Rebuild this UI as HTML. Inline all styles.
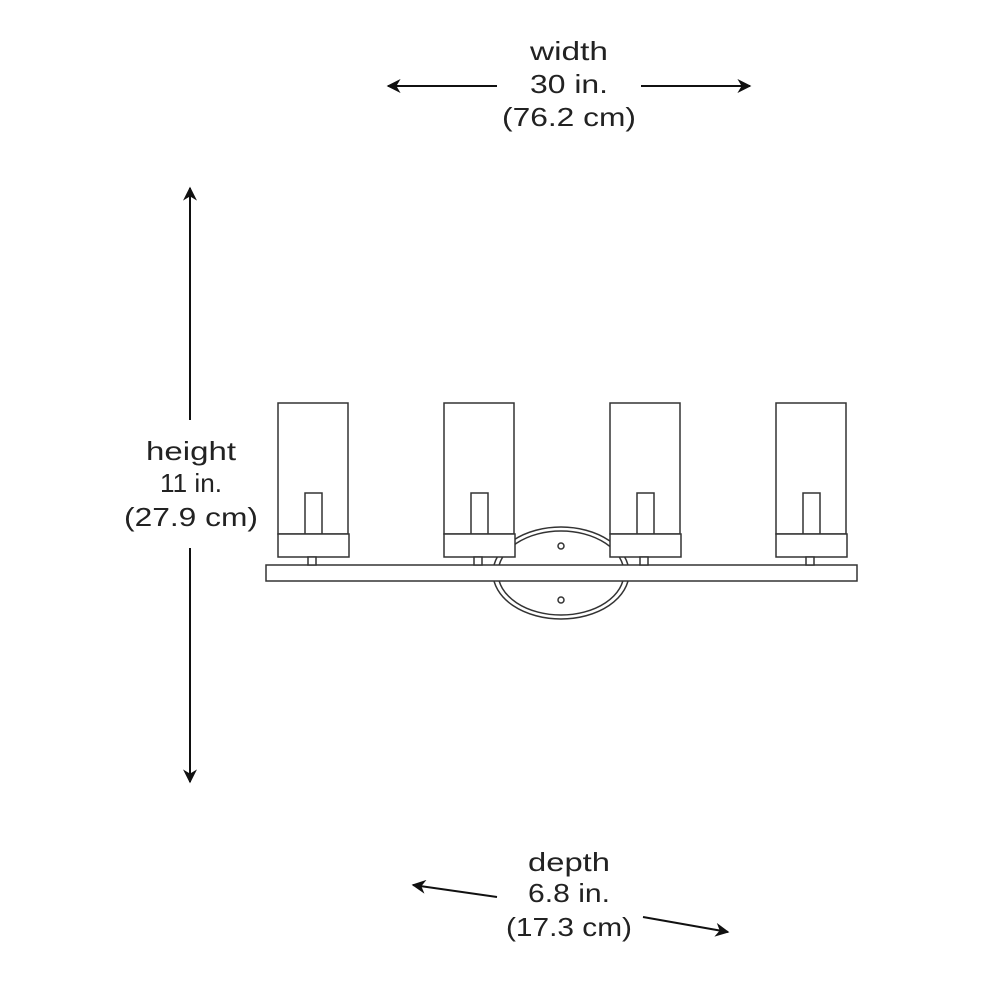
<!DOCTYPE html>
<html><head><style>html,body{margin:0;padding:0;background:#fff}svg{display:block}</style></head>
<body>
<svg width="1000" height="1000" viewBox="0 0 1000 1000" xmlns="http://www.w3.org/2000/svg">
<defs>
<marker id="ah" viewBox="0 0 10 10" refX="9" refY="5" markerWidth="14" markerHeight="14" markerUnits="userSpaceOnUse" orient="auto">
<path d="M0,0 L10,5 L0,10 L3,5 z" fill="#111"/></marker>
</defs>
<g font-family="Liberation Sans, sans-serif" font-size="26" fill="#222" text-anchor="middle">
<text x="569" y="60" textLength="78" lengthAdjust="spacingAndGlyphs">width</text>
<text x="569" y="93" textLength="78" lengthAdjust="spacingAndGlyphs">30 in.</text>
<text x="569" y="126" textLength="134" lengthAdjust="spacingAndGlyphs">(76.2 cm)</text>
<text x="191" y="460" textLength="90" lengthAdjust="spacingAndGlyphs">height</text>
<text x="191" y="492" textLength="62" lengthAdjust="spacingAndGlyphs">11 in.</text>
<text x="191" y="526" textLength="134" lengthAdjust="spacingAndGlyphs">(27.9 cm)</text>
<text x="569" y="871" textLength="82" lengthAdjust="spacingAndGlyphs">depth</text>
<text x="569" y="902" textLength="82" lengthAdjust="spacingAndGlyphs">6.8 in.</text>
<text x="569" y="936" textLength="126" lengthAdjust="spacingAndGlyphs">(17.3 cm)</text>
</g>
<g stroke="#111" stroke-width="2" fill="none">
<line x1="497" y1="86" x2="388" y2="86" marker-end="url(#ah)"/>
<line x1="641" y1="86" x2="750" y2="86" marker-end="url(#ah)"/>
<line x1="190" y1="420" x2="190" y2="188" marker-end="url(#ah)"/>
<line x1="190" y1="548" x2="190" y2="782" marker-end="url(#ah)"/>
<line x1="497" y1="897" x2="413" y2="885" marker-end="url(#ah)"/>
<line x1="643" y1="917" x2="728" y2="932" marker-end="url(#ah)"/>
</g>
<g stroke="#333" stroke-width="1.5" fill="#fff">
<ellipse cx="561" cy="573" rx="68" ry="46"/>
<ellipse cx="561" cy="573" rx="63" ry="42"/>
<circle cx="561" cy="546" r="3"/>
<circle cx="561" cy="600" r="3"/>
<rect x="266" y="565" width="591" height="16"/>
<g id="s">
<rect x="278" y="403" width="70" height="131"/>
<rect x="305" y="493" width="17" height="41"/>
<rect x="278" y="534" width="71" height="23"/>
<rect x="308" y="557" width="8" height="8"/>
</g>
<use href="#s" x="166"/><use href="#s" x="332"/><use href="#s" x="498"/>
</g>
</svg>
</body></html>
